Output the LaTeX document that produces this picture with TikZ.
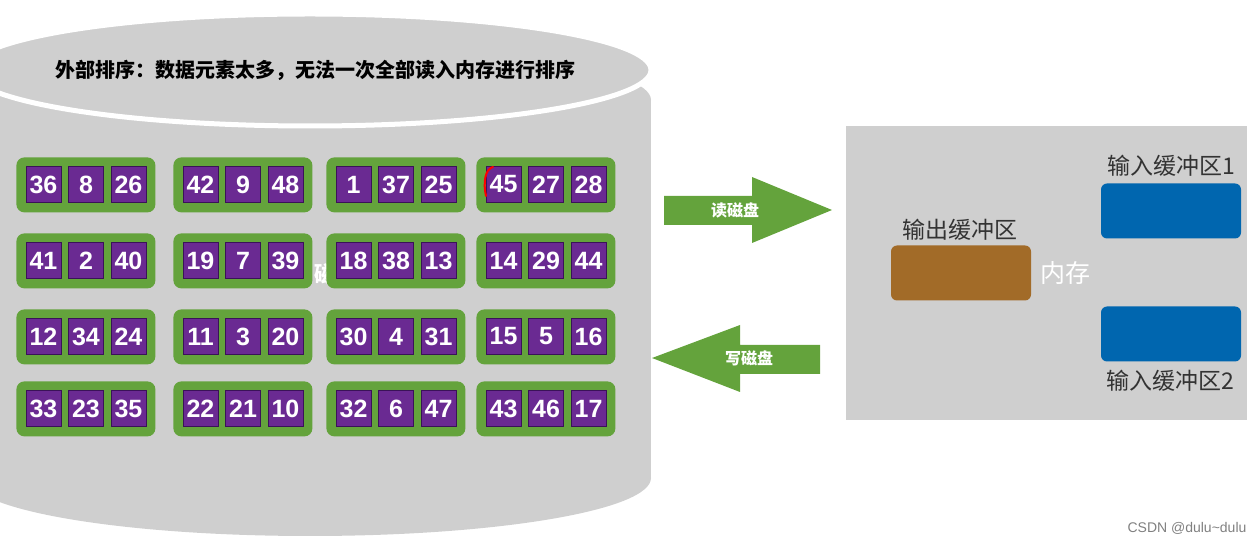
\documentclass[tikz,border=0pt]{standalone}
\usepackage{fontspec}
\setmainfont{Liberation Sans}
\newfontfamily\cjk{Noto Sans CJK SC}
\definecolor{diskgray}{HTML}{CFCFCF}
\definecolor{grpgreen}{HTML}{64A33C}
\definecolor{cellpurple}{HTML}{6A2A92}
\definecolor{celledge}{HTML}{3A1258}
\definecolor{outbrown}{HTML}{A26B28}
\definecolor{inblue}{HTML}{0066AF}
\definecolor{labelgray}{HTML}{333333}
\tikzset{
  grp/.style={fill=grpgreen, rounded corners=4pt, minimum width=69.5pt, minimum height=27.5pt, inner sep=0pt, anchor=north west},
  cell/.style={fill=cellpurple, draw=celledge, line width=0.4pt, minimum width=17.5pt, minimum height=18pt, inner sep=0pt, text=white, font=\fontsize{12.5}{13}\selectfont\bfseries},
  buf/.style={rounded corners=3pt, minimum width=70pt, minimum height=27.5pt, inner sep=0pt},
  buflabel/.style={text=labelgray, font=\cjk\fontsize{11.5}{12}\selectfont},
  arrowtext/.style={text=white, font=\cjk\bfseries\fontsize{8}{9}\selectfont},
}
\begin{document}
\begin{tikzpicture}[x=0.5pt,y=-0.5pt]
\useasboundingbox (0,0) rectangle (1247,544);
\begin{scope}
\clip (0,0) rectangle (1247,544);
% disk body
\fill[diskgray] (-31,100) rectangle (651,478);
\fill[diskgray] (310,100) ellipse [x radius=341, y radius=56];
\fill[diskgray] (310,478) ellipse [x radius=341, y radius=58];
% hidden disk label
\node[text=white, font=\cjk\bfseries\fontsize{11}{12}\selectfont] (disklabel) at (336,274) {磁盘};
% top ellipse
\filldraw[fill=diskgray, draw=white, line width=2.5pt] (310,70) ellipse [x radius=341, y radius=56];
\end{scope}
\node[font=\cjk\bfseries\fontsize{10}{11}\selectfont] (title) at (315,70) {外部排序：数据元素太多，无法一次全部读入内存进行排序};
% groups
\foreach \r/\gy/\nums in {1/157/{36,8,26,42,9,48,1,37,25,45,27,28},
                          2/233/{41,2,40,19,7,39,18,38,13,14,29,44},
                          3/309/{12,34,24,11,3,20,30,4,31,15,5,16},
                          4/381/{33,23,35,22,21,10,32,6,47,43,46,17}} {
  \foreach \c/\gx in {1/16,2/173,3/326,4/476} {
    \node[grp] (g\r\c) at (\gx,\gy) {};
    \foreach \k/\dx in {1/27.5,2/70,3/112.5} {
      \pgfmathtruncatemacro{\idx}{(\c-1)*3+\k-1}
      \pgfmathsetmacro{\val}{{\nums}[\idx]}
      \pgfmathtruncatemacro{\ival}{\val}
      \node[cell] (n\r\c\k) at (\gx+\dx,\gy+27.5) {\ival};
    }
  }
}
% red annotation mark
\draw[red, line width=1pt, line cap=round] (493,167) .. controls (485,169) and (483,183) .. (486,196);
% read arrow
\fill[grpgreen] (664,196) -- (752,196) -- (752,177) -- (832,210) -- (752,243) -- (752,225) -- (664,225) -- cycle;
\node[arrowtext] (readlbl) at (735,210) {读磁盘};
% write arrow
\fill[grpgreen] (820,345) -- (740,345) -- (740,325) -- (652,358) -- (740,392) -- (740,374) -- (820,374) -- cycle;
\node[arrowtext] (writelbl) at (749,358) {写磁盘};
% memory
\node[fill=diskgray, minimum width=200.5pt, minimum height=147pt, inner sep=0pt, anchor=north west] (mem) at (846,126) {};
\node[buf, fill=outbrown] (outbuf) at (961,273) {};
\node[buflabel] (outlbl) at (960,230) {输出缓冲区};
\node[text=white, font=\cjk\fontsize{12.5}{13}\selectfont] (memlbl) at (1065,273) {内存};
\node[buf, fill=inblue] (inbuf1) at (1171,211) {};
\node[buflabel] (in1lbl) at (1171,166) {输入缓冲区1};
\node[buf, fill=inblue] (inbuf2) at (1171,334) {};
\node[buflabel] (in2lbl) at (1170,381) {输入缓冲区2};
\node[text=gray, font=\fontsize{7}{8}\selectfont] (csdn) at (1187,528) {CSDN @dulu\textasciitilde dulu};
\end{tikzpicture}
\end{document}
